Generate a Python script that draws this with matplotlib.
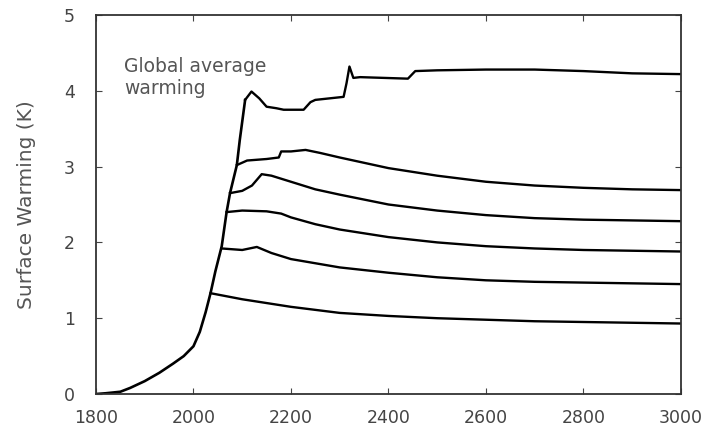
import matplotlib
matplotlib.use("Agg")
import matplotlib.pyplot as plt

# common rise (historical + emissions period), shared by all runs
rise_years = [1800, 1820, 1850, 1870, 1900, 1930, 1958, 1980, 2000, 2013, 2025,
              2035, 2045, 2058, 2068, 2075, 2089, 2095, 2106]
rise_vals = [0.0, 0.01, 0.03, 0.08, 0.17, 0.28, 0.40, 0.50, 0.63, 0.82, 1.08,
             1.33, 1.62, 1.95, 2.40, 2.65, 3.02, 3.35, 3.88]

# branches after emissions stop
b1_years = [2035, 2100, 2200, 2300, 2400, 2500, 2600, 2700, 2800, 2900, 3000]
b1_vals = [1.33, 1.25, 1.15, 1.07, 1.03, 1.00, 0.98, 0.96, 0.95, 0.94, 0.93]

b2_years = [2058, 2100, 2130, 2160, 2200, 2300, 2400, 2500, 2600, 2700, 2800, 2900, 3000]
b2_vals = [1.92, 1.90, 1.94, 1.86, 1.78, 1.67, 1.60, 1.54, 1.50, 1.48, 1.47, 1.46, 1.45]

b3_years = [2068, 2100, 2150, 2180, 2200, 2250, 2300, 2400, 2500, 2600, 2700, 2800, 2900, 3000]
b3_vals = [2.40, 2.42, 2.41, 2.38, 2.33, 2.24, 2.17, 2.07, 2.00, 1.95, 1.92, 1.90, 1.89, 1.88]

b4_years = [2075, 2100, 2120, 2140, 2160, 2200, 2250, 2300, 2400, 2500, 2600, 2700, 2800, 2900, 3000]
b4_vals = [2.65, 2.68, 2.75, 2.90, 2.88, 2.80, 2.70, 2.63, 2.50, 2.42, 2.36, 2.32, 2.30, 2.29, 2.28]

b5_years = [2089, 2110, 2150, 2175, 2180, 2200, 2230, 2260, 2300, 2350, 2400, 2500,
            2600, 2700, 2800, 2900, 3000]
b5_vals = [3.02, 3.08, 3.10, 3.12, 3.20, 3.20, 3.22, 3.18, 3.12, 3.05, 2.98, 2.88,
           2.80, 2.75, 2.72, 2.70, 2.69]

b6_years = [2106, 2119, 2135, 2150, 2170, 2185, 2226, 2240, 2250, 2308, 2314, 2320,
            2328, 2342, 2440, 2455, 2500, 2600, 2700, 2800, 2900, 3000]
b6_vals = [3.88, 3.99, 3.90, 3.79, 3.77, 3.75, 3.75, 3.85, 3.88, 3.92, 4.10, 4.32,
           4.17, 4.18, 4.16, 4.26, 4.27, 4.28, 4.28, 4.26, 4.23, 4.22]

branches = [(b1_years, b1_vals), (b2_years, b2_vals), (b3_years, b3_vals),
            (b4_years, b4_vals), (b5_years, b5_vals), (b6_years, b6_vals)]

fig = plt.figure(figsize=(7.13, 4.28), dpi=100)
ax = fig.add_axes([0.1346, 0.0794, 0.8204, 0.8856])

ax.plot(rise_years, rise_vals, color="black", lw=1.9)
for yrs, vals in branches:
    ax.plot(yrs, vals, color="black", lw=1.7)

ax.set_xlim(1800, 3000)
ax.set_ylim(0, 5)
ax.set_xticks(range(1800, 3001, 200))
ax.set_yticks(range(0, 6))
ax.tick_params(direction="in", top=True, right=True, length=4,
               labelsize=12.5, colors="#444444")
ax.tick_params(axis="x", pad=11)
ax.tick_params(axis="y", pad=15)
for s in ax.spines.values():
    s.set_linewidth(1.3)
    s.set_color("#333333")

ax.set_ylabel("Surface Warming (K)", fontsize=14.5, color="#555555", labelpad=20)
ax.text(1857, 4.45, "Global average\nwarming", fontsize=13.5, color="#555555",
        va="top", ha="left", linespacing=1.2)

fig.savefig("out.png", dpi=100)
